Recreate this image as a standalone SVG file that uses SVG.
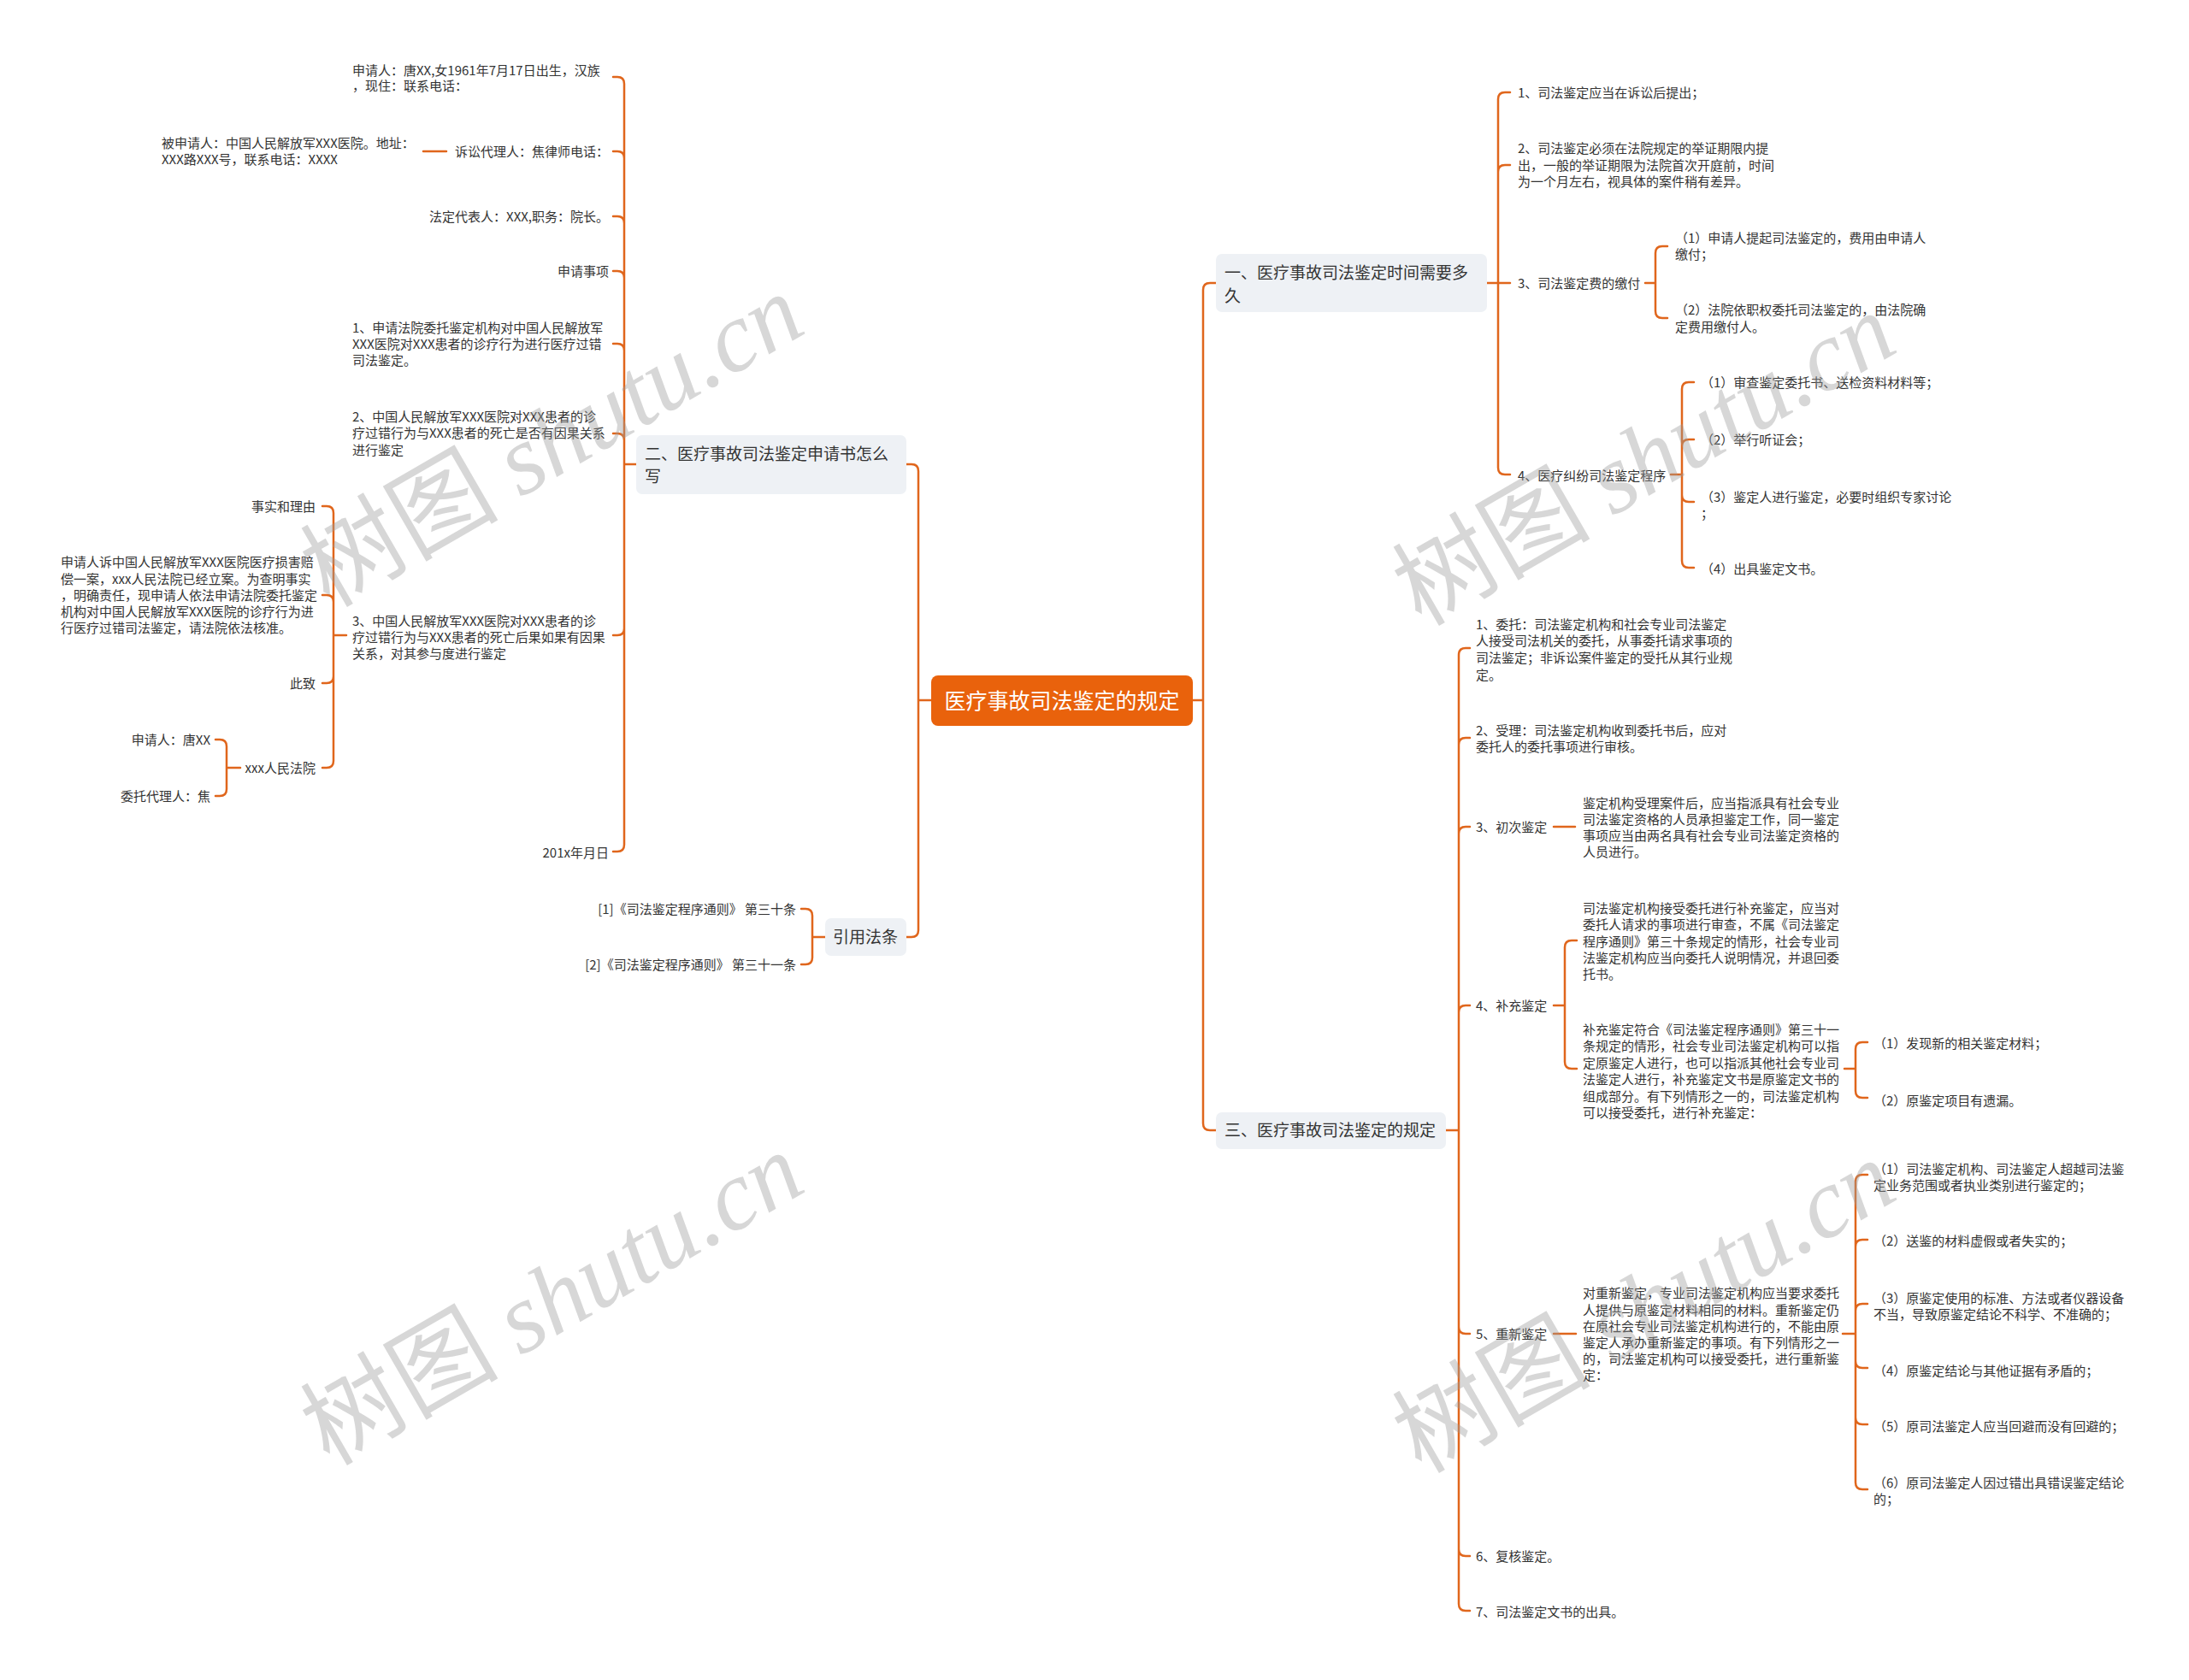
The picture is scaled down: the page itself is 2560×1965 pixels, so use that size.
<svg xmlns="http://www.w3.org/2000/svg" width="2560" height="1965" viewBox="0 0 2560 1965">
<style>
text{font-family:"Noto Sans CJK SC","Noto Sans",sans-serif;font-size:15px;fill:#333}
.b{font-size:19px}
.r{font-size:25px;fill:#fff}
.e{text-anchor:end}
.m{text-anchor:middle}
.ln{fill:none;stroke:#E0661C;stroke-width:2.5;stroke-linecap:round;stroke-linejoin:round}
.box{fill:#EEF1F5}
.wm{font-size:116px;fill:#9a9a9a;fill-opacity:0.4}
.wm tspan.s{font-family:"Liberation Serif",serif;font-style:italic}
</style>
<rect width="2560" height="1965" fill="#fff"/>
<g id="connectors">
<path class="ln" d="M1394 819H1407M1407 819V339Q1407 331 1415 331H1422M1407 819V1314Q1407 1322 1415 1322H1422"/>
<path class="ln" d="M1089 819H1074M1074 819V551Q1074 543 1066 543H1060M1074 819V1088Q1074 1096 1066 1096H1060"/>
<path class="ln" d="M1739 331H1752M1752 331V116Q1752 108 1760 108H1766M1752 331V201Q1752 193 1760 193H1766M1752 331H1766M1752 331V547Q1752 555 1760 555H1766"/>
<path class="ln" d="M1924 331H1936M1936 331V296Q1936 288 1944 288H1950M1936 331V364Q1936 372 1944 372H1950"/>
<path class="ln" d="M1954 555H1967M1967 555V455Q1967 447 1975 447H1981M1967 555V522Q1967 514 1975 514H1981M1967 555V579Q1967 587 1975 587H1981M1967 555V656Q1967 664 1975 664H1981"/>
<path class="ln" d="M1691 1322H1706M1706 1322V766Q1706 758 1714 758H1719M1706 1322V871Q1706 863 1714 863H1719M1706 1322V975Q1706 967 1714 967H1719M1706 1322V1184Q1706 1176 1714 1176H1719M1706 1322V1552Q1706 1560 1714 1560H1719M1706 1322V1812Q1706 1820 1714 1820H1719M1706 1322V1876Q1706 1884 1714 1884H1719"/>
<path class="ln" d="M1817 967H1842"/>
<path class="ln" d="M1817 1176H1830M1830 1176V1108Q1830 1100 1838 1100H1844M1830 1176V1242Q1830 1250 1838 1250H1844"/>
<path class="ln" d="M2157 1250H2170M2170 1250V1227Q2170 1219 2178 1219H2184M2170 1250V1276Q2170 1284 2178 1284H2184"/>
<path class="ln" d="M1817 1560H1843"/>
<path class="ln" d="M2155 1560H2170M2170 1560V1382Q2170 1374 2178 1374H2184M2170 1560V1458Q2170 1450 2178 1450H2184M2170 1560V1533Q2170 1525 2178 1525H2184M2170 1560V1592Q2170 1600 2178 1600H2184M2170 1560V1658Q2170 1666 2178 1666H2184M2170 1560V1734Q2170 1742 2178 1742H2184"/>
<path class="ln" d="M744 543H730M730 543V98Q730 90 722 90H717M730 543V185Q730 177 722 177H717M730 543V261Q730 253 722 253H717M730 543V325Q730 317 722 317H717M730 543V410Q730 402 722 402H717M730 543V515Q730 507 722 507H717M730 543V735Q730 743 722 743H717M730 543V988Q730 996 722 996H717"/>
<path class="ln" d="M522 177H495"/>
<path class="ln" d="M405 743H390M390 743V600Q390 592 382 592H377M390 743V704Q390 696 382 696H377M390 743V791Q390 799 382 799H377M390 743V890Q390 898 382 898H377"/>
<path class="ln" d="M281 898H265M265 898V873Q265 865 257 865H252M265 898V923Q265 931 257 931H252"/>
<path class="ln" d="M965 1096H950M950 1096V1071Q950 1063 942 1063H937M950 1096V1120Q950 1128 942 1128H937"/>
</g>
<g id="root">
<rect x="1089" y="790" width="306" height="59" rx="8" fill="#E9620C"/>
<text class="r m" x="1242" y="829">医疗事故司法鉴定的规定</text>
</g>
<g id="b1">
<rect class="box" x="1422" y="297" width="317" height="68" rx="7"/>
<text class="b" x="1432" y="326">一、医疗事故司法鉴定时间需要多</text>
<text class="b" x="1432" y="353">久</text>
</g>
<g id="b1-1"><text x="1775" y="114">1、司法鉴定应当在诉讼后提出；</text></g>
<g id="b1-2"><text x="1775" y="179">2、司法鉴定必须在法院规定的举证期限内提</text><text x="1775" y="199">出，一般的举证期限为法院首次开庭前，时间</text><text x="1775" y="218">为一个月左右，视具体的案件稍有差异。</text></g>
<g id="b1-3"><text x="1775" y="337">3、司法鉴定费的缴付</text></g>
<g id="b1-3-1"><text x="1959" y="284">（1）申请人提起司法鉴定的，费用由申请人</text><text x="1959" y="303">缴付；</text></g>
<g id="b1-3-2"><text x="1959" y="368">（2）法院依职权委托司法鉴定的，由法院确</text><text x="1959" y="388">定费用缴付人。</text></g>
<g id="b1-4"><text x="1775" y="562">4、医疗纠纷司法鉴定程序</text></g>
<g id="b1-4-1"><text x="1989" y="453">（1）审查鉴定委托书、送检资料材料等；</text></g>
<g id="b1-4-2"><text x="1989" y="520">（2）举行听证会；</text></g>
<g id="b1-4-3"><text x="1989" y="587">（3）鉴定人进行鉴定，必要时组织专家讨论</text><text x="1989" y="606">；</text></g>
<g id="b1-4-4"><text x="1989" y="671">（4）出具鉴定文书。</text></g>
<g id="b3">
<rect class="box" x="1422" y="1301" width="269" height="43" rx="7"/>
<text class="b" x="1432" y="1329">三、医疗事故司法鉴定的规定</text>
</g>
<g id="b3-1"><text x="1726" y="736">1、委托：司法鉴定机构和社会专业司法鉴定</text><text x="1726" y="755">人接受司法机关的委托，从事委托请求事项的</text><text x="1726" y="775">司法鉴定；非诉讼案件鉴定的受托从其行业规</text><text x="1726" y="795">定。</text></g>
<g id="b3-2"><text x="1726" y="860">2、受理：司法鉴定机构收到委托书后，应对</text><text x="1726" y="879">委托人的委托事项进行审核。</text></g>
<g id="b3-3"><text x="1726" y="973">3、初次鉴定</text></g>
<g id="b3-3-1"><text x="1851" y="945">鉴定机构受理案件后，应当指派具有社会专业</text><text x="1851" y="964">司法鉴定资格的人员承担鉴定工作，同一鉴定</text><text x="1851" y="983">事项应当由两名具有社会专业司法鉴定资格的</text><text x="1851" y="1002">人员进行。</text></g>
<g id="b3-4"><text x="1726" y="1182">4、补充鉴定</text></g>
<g id="b3-4-1"><text x="1851" y="1068">司法鉴定机构接受委托进行补充鉴定，应当对</text><text x="1851" y="1087">委托人请求的事项进行审查，不属《司法鉴定</text><text x="1851" y="1107">程序通则》第三十条规定的情形，社会专业司</text><text x="1851" y="1126">法鉴定机构应当向委托人说明情况，并退回委</text><text x="1851" y="1145">托书。</text></g>
<g id="b3-4-2"><text x="1851" y="1210">补充鉴定符合《司法鉴定程序通则》第三十一</text><text x="1851" y="1229">条规定的情形，社会专业司法鉴定机构可以指</text><text x="1851" y="1249">定原鉴定人进行，也可以指派其他社会专业司</text><text x="1851" y="1268">法鉴定人进行，补充鉴定文书是原鉴定文书的</text><text x="1851" y="1288">组成部分。有下列情形之一的，司法鉴定机构</text><text x="1851" y="1307">可以接受委托，进行补充鉴定：</text></g>
<g id="b3-4-2-1"><text x="2191" y="1226">（1）发现新的相关鉴定材料；</text></g>
<g id="b3-4-2-2"><text x="2191" y="1293">（2）原鉴定项目有遗漏。</text></g>
<g id="b3-5"><text x="1726" y="1566">5、重新鉴定</text></g>
<g id="b3-5-1"><text x="1851" y="1518">对重新鉴定，专业司法鉴定机构应当要求委托</text><text x="1851" y="1538">人提供与原鉴定材料相同的材料。重新鉴定仍</text><text x="1851" y="1557">在原社会专业司法鉴定机构进行的，不能由原</text><text x="1851" y="1576">鉴定人承办重新鉴定的事项。有下列情形之一</text><text x="1851" y="1595">的，司法鉴定机构可以接受委托，进行重新鉴</text><text x="1851" y="1614">定：</text></g>
<g id="b3-5-1-1"><text x="2191" y="1373">（1）司法鉴定机构、司法鉴定人超越司法鉴</text><text x="2191" y="1392">定业务范围或者执业类别进行鉴定的；</text></g>
<g id="b3-5-1-2"><text x="2191" y="1457">（2）送鉴的材料虚假或者失实的；</text></g>
<g id="b3-5-1-3"><text x="2191" y="1524">（3）原鉴定使用的标准、方法或者仪器设备</text><text x="2191" y="1543">不当，导致原鉴定结论不科学、不准确的；</text></g>
<g id="b3-5-1-4"><text x="2191" y="1609">（4）原鉴定结论与其他证据有矛盾的；</text></g>
<g id="b3-5-1-5"><text x="2191" y="1674">（5）原司法鉴定人应当回避而没有回避的；</text></g>
<g id="b3-5-1-6"><text x="2191" y="1740">（6）原司法鉴定人因过错出具错误鉴定结论</text><text x="2191" y="1759">的；</text></g>
<g id="b3-6"><text x="1726" y="1826">6、复核鉴定。</text></g>
<g id="b3-7"><text x="1726" y="1891">7、司法鉴定文书的出具。</text></g>
<g id="b2">
<rect class="box" x="744" y="509" width="316" height="69" rx="7"/>
<text class="b" x="754" y="538">二、医疗事故司法鉴定申请书怎么</text>
<text class="b" x="754" y="564">写</text>
</g>
<g id="b2-1"><text x="412" y="88">申请人：唐XX,女1961年7月17日出生，汉族</text><text x="412" y="106">，现住：联系电话：</text></g>
<g id="b2-2"><text class="e" x="712" y="183">诉讼代理人：焦律师电话：</text></g>
<g id="b2-2-1"><text x="189" y="173">被申请人：中国人民解放军XXX医院。地址：</text><text x="189" y="192">XXX路XXX号，联系电话：XXXX</text></g>
<g id="b2-3"><text class="e" x="712" y="259">法定代表人：XXX,职务：院长。</text></g>
<g id="b2-4"><text class="e" x="712" y="323">申请事项</text></g>
<g id="b2-5"><text x="412" y="389">1、申请法院委托鉴定机构对中国人民解放军</text><text x="412" y="408">XXX医院对XXX患者的诊疗行为进行医疗过错</text><text x="412" y="427">司法鉴定。</text></g>
<g id="b2-6"><text x="412" y="493">2、中国人民解放军XXX医院对XXX患者的诊</text><text x="412" y="512">疗过错行为与XXX患者的死亡是否有因果关系</text><text x="412" y="532">进行鉴定</text></g>
<g id="b2-7"><text x="412" y="732">3、中国人民解放军XXX医院对XXX患者的诊</text><text x="412" y="751">疗过错行为与XXX患者的死亡后果如果有因果</text><text x="412" y="770">关系，对其参与度进行鉴定</text></g>
<g id="b2-7-1"><text class="e" x="369" y="598">事实和理由</text></g>
<g id="b2-7-2"><text x="71" y="663">申请人诉中国人民解放军XXX医院医疗损害赔</text><text x="71" y="683">偿一案，xxx人民法院已经立案。为查明事实</text><text x="71" y="702">，明确责任，现申请人依法申请法院委托鉴定</text><text x="71" y="721">机构对中国人民解放军XXX医院的诊疗行为进</text><text x="71" y="740">行医疗过错司法鉴定，请法院依法核准。</text></g>
<g id="b2-7-3"><text class="e" x="369" y="805">此致</text></g>
<g id="b2-7-4"><text class="e" x="369" y="904">xxx人民法院</text></g>
<g id="b2-7-4-1"><text class="e" x="246" y="871">申请人：唐XX</text></g>
<g id="b2-7-4-2"><text class="e" x="246" y="937">委托代理人：焦</text></g>
<g id="b2-8"><text class="e" x="712" y="1003">201x年月日</text></g>
<g id="b4">
<rect class="box" x="965" y="1074" width="95" height="44" rx="7"/>
<text class="b m" x="1012" y="1103">引用法条</text>
</g>
<g id="b4-1"><text class="e" x="931" y="1069">[1]《司法鉴定程序通则》 第三十条</text></g>
<g id="b4-2"><text class="e" x="931" y="1134">[2]《司法鉴定程序通则》 第三十一条</text></g>
<g id="watermarks">
<text class="wm m" transform="rotate(-30 645 514)" x="645" y="555">树图 <tspan class="s">shutu.cn</tspan></text>
<text class="wm m" transform="rotate(-30 645 1518)" x="645" y="1559">树图 <tspan class="s">shutu.cn</tspan></text>
<text class="wm m" transform="rotate(-30 1922 536)" x="1922" y="577">树图 <tspan class="s">shutu.cn</tspan></text>
<text class="wm m" transform="rotate(-30 1922 1527)" x="1922" y="1568">树图 <tspan class="s">shutu.cn</tspan></text>
</g>
</svg>
